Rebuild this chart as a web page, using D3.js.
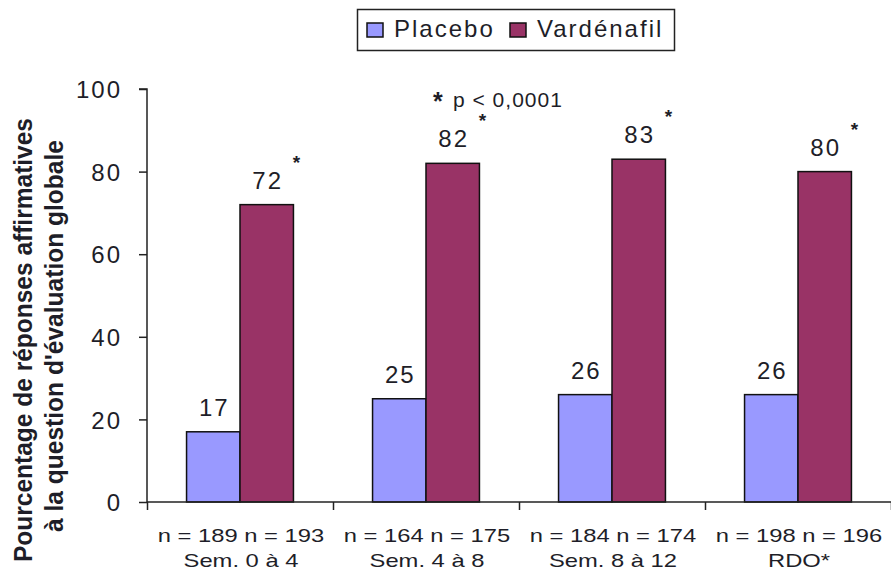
<!DOCTYPE html>
<html><head><meta charset="utf-8">
<script src="https://cdn.jsdelivr.net/npm/d3@7"></script>
<style>
body{margin:0;background:#fff;}
text{font-family:"Liberation Sans",Arial,sans-serif;fill:#1e1e28;}
</style></head>
<body><svg id="c" width="891" height="573"></svg>
<script>
const categories = ["Sem. 0 à 4", "Sem. 4 à 8", "Sem. 8 à 12", "RDO*"];
const series = ["Placebo", "Vardénafil"];
const placeboValues = [17, 25, 26, 26];
const vardenafilValues = [72, 82, 83, 80];
const nPlacebo = [189, 164, 184, 198];
const nVardenafil = [193, 175, 174, 196];
const yTicks = [0, 20, 40, 60, 80, 100];
const colors = ["#9999ff", "#993366"];
const yTitle = ["Pourcentage de réponses affirmatives", "à la question d'évaluation globale"];
const noteStar = "*";
const note = "p < 0,0001";

const svg = d3.select("#c");
const mLeft = 147, mRight = 891, mTop = 89, mBottom = 502;

const x0 = d3.scaleBand().domain(categories).range([mLeft, mRight]).padding(0);
const x1 = d3.scaleBand().domain(series).range([0, x0.bandwidth()]).paddingInner(0).paddingOuter(0.74);
const y = d3.scaleLinear().domain([0, 100]).range([mBottom, mTop]);

const data = categories.map((c, i) => ({cat: c, vals: [placeboValues[i], vardenafilValues[i]], n: [nPlacebo[i], nVardenafil[i]]}));

// bars
const g = svg.append("g");
data.forEach(d => {
  d.vals.forEach((v, j) => {
    g.append("rect")
      .attr("x", x0(d.cat) + x1(series[j]))
      .attr("y", y(v))
      .attr("width", x1.bandwidth())
      .attr("height", y(0) - y(v))
      .attr("fill", colors[j])
      .attr("stroke", "#111")
      .attr("stroke-width", 1.5);
    g.append("text")
      .attr("x", x0(d.cat) + x1(series[j]) + x1.bandwidth() / 2 + 1)
      .attr("y", y(v) - 16)
      .attr("text-anchor", "middle")
      .style("font-size", "24px")
      .style("letter-spacing", "2px")
      .text(v);
    if (j === 1) {
      g.append("text")
        .attr("x", x0(d.cat) + x1(series[j]) + x1.bandwidth() + 3)
        .attr("y", y(v) - 47 + 11)
        .attr("text-anchor", "middle")
        .style("font-size", "19px")
        .style("font-weight", "bold")
        .text("*");
    }
  });
});

// y axis
const yAxis = d3.axisLeft(y).tickValues(yTicks).tickSize(8).tickPadding(17);
const ya = svg.append("g").attr("transform", `translate(${mLeft},0)`).call(yAxis);
ya.select(".domain").attr("stroke", "#222").attr("stroke-width", 1.5).attr("d", `M-8,${mTop}H0V${mBottom}`);
ya.selectAll(".tick line").attr("stroke", "#222").attr("stroke-width", 1.5);
ya.selectAll(".tick text").style("font-size", "24px").style("letter-spacing", "2px")
  .style("font-family", "'Liberation Sans',Arial,sans-serif").attr("fill", "#1e1e28").attr("dy", "0.36em");

// x axis (ticks at category boundaries)
const xb = d3.scaleLinear().domain([0, categories.length]).range([mLeft, mRight]);
const xAxis = d3.axisBottom(xb).tickValues(d3.range(categories.length + 1)).tickSize(8).tickFormat("");
const xa = svg.append("g").attr("transform", `translate(0,${mBottom})`).call(xAxis);
xa.select(".domain").attr("stroke", "#222").attr("stroke-width", 1.5).attr("d", `M${mLeft},0H${mRight}`);
xa.selectAll(".tick line").attr("stroke", "#222").attr("stroke-width", 1.5);

// category labels (glyphs widened like the reference)
const stretch = 1.25;
data.forEach(d => {
  const cx = x0(d.cat) + x0.bandwidth() / 2 + 1;
  [[`n = ${d.n[0]} n = ${d.n[1]}`, 542], [d.cat, 567]].forEach(([txt, yy]) => {
    const t = svg.append("text").attr("x", cx).attr("y", yy).attr("text-anchor", "middle")
      .style("font-size", "19px").text(txt);
    const w = t.node().getComputedTextLength();
    t.attr("textLength", w * stretch).attr("lengthAdjust", "spacingAndGlyphs");
  });
});

// y title
const titleLen = [444, 392];
const titleX = [32, 63];
const titleY = [340, 336];
yTitle.forEach((t, i) => {
  svg.append("text")
    .attr("transform", `translate(${titleX[i]},${titleY[i]}) rotate(-90)`)
    .attr("text-anchor", "middle")
    .attr("textLength", titleLen[i])
    .attr("lengthAdjust", "spacingAndGlyphs")
    .style("font-size", "25px").style("font-weight", "bold")
    .text(t);
});

// note
const nt = svg.append("text").attr("x", 433).attr("y", 107).style("font-size", "21px");
nt.append("tspan").style("font-size", "25px").style("font-weight", "bold").attr("dy", 3).text(noteStar);
nt.append("tspan").attr("x", 453).attr("dy", -3).style("letter-spacing", "1px").text(note);

// legend
const lg = svg.append("g");
lg.append("rect").attr("x", 357.5).attr("y", 9.5).attr("width", 317).attr("height", 41)
  .attr("fill", "#fff").attr("stroke", "#222").attr("stroke-width", 1.5);
const legX = [367, 510];
series.forEach((s, i) => {
  lg.append("rect").attr("x", legX[i]).attr("y", 23).attr("width", 16).attr("height", 14)
    .attr("fill", colors[i]).attr("stroke", "#111").attr("stroke-width", 1.5);
  lg.append("text").attr("x", legX[i] + 27).attr("y", 37)
    .style("font-size", "24px").style("letter-spacing", "2px").text(s);
});
</script></body></html>
